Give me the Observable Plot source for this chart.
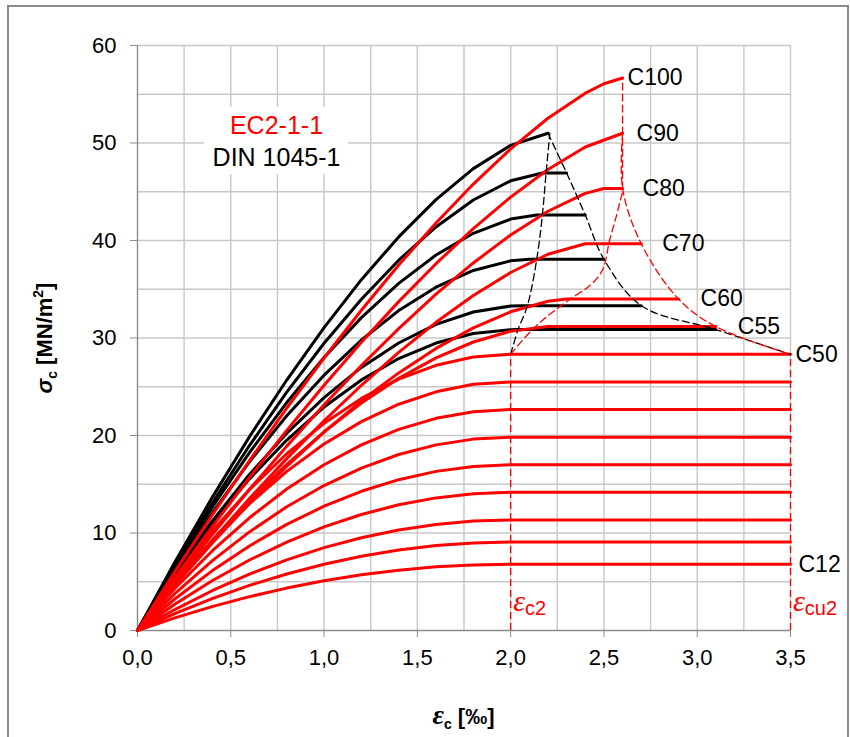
<!DOCTYPE html>
<html>
<head>
<meta charset="utf-8">
<script src="https://cdn.jsdelivr.net/npm/d3@7"></script>
<script src="https://cdn.jsdelivr.net/npm/@observablehq/plot@0.6"></script>
<style>
  html, body { margin: 0; padding: 0; background: #fff; }
  #chart svg { display: block; }
</style>
</head>
<body>
<div id="chart"></div>
<script>
// Strain steps along the parabolic branch, in ‰
const epsRise = [0, 0.2, 0.4, 0.6, 0.8, 1.0, 1.2, 1.4, 1.6, 1.8, 2.0];

// EC2-1-1, normal-strength classes: stress (MN/m²) at epsRise, then constant up to εcu2
const ec2NormalClasses = ["C12", "C16", "C20", "C25", "C30", "C35", "C40", "C45", "C50"];
const ec2NormalRise = [
  [0, 1.29, 2.45, 3.47, 4.35, 5.10, 5.71, 6.19, 6.53, 6.73, 6.80],
  [0, 1.72, 3.27, 4.63, 5.80, 6.80, 7.62, 8.25, 8.71, 8.98, 9.07],
  [0, 2.15, 4.08, 5.78, 7.25, 8.50, 9.52, 10.31, 10.88, 11.22, 11.33],
  [0, 2.69, 5.10, 7.23, 9.07, 10.63, 11.90, 12.89, 13.60, 14.03, 14.17],
  [0, 3.23, 6.12, 8.67, 10.88, 12.75, 14.28, 15.47, 16.32, 16.83, 17.00],
  [0, 3.77, 7.14, 10.11, 12.69, 14.87, 16.66, 18.05, 19.04, 19.63, 19.83],
  [0, 4.31, 8.16, 11.56, 14.51, 17.00, 19.04, 20.63, 21.76, 22.44, 22.67],
  [0, 4.85, 9.18, 13.01, 16.32, 19.13, 21.42, 23.21, 24.48, 25.25, 25.50],
  [0, 5.38, 10.20, 14.45, 18.13, 21.25, 23.80, 25.78, 27.20, 28.05, 28.33]
];
const ec2NormalTailEps = [3.5];

// EC2-1-1, high-strength classes
const ec2HighClasses = ["C55", "C60", "C70", "C80", "C90", "C100"];
const ec2HighRise = [
  [0, 4.79, 9.23, 13.32, 17.04, 20.38, 23.33, 25.86, 27.96, 29.59, 30.70],
  [0, 4.61, 8.96, 13.04, 16.84, 20.35, 23.56, 26.42, 28.93, 31.04, 32.69],
  [0, 4.70, 9.22, 13.53, 17.63, 21.51, 25.15, 28.52, 31.61, 34.35, 36.72],
  [0, 5.00, 9.82, 14.46, 18.91, 23.16, 27.18, 30.96, 34.49, 37.70, 40.57],
  [0, 5.41, 10.63, 15.68, 20.52, 25.15, 29.56, 33.73, 37.62, 41.21, 44.45],
  [0, 6.01, 11.82, 17.42, 22.80, 27.95, 32.85, 37.48, 41.80, 45.79, 49.39]
];
const ec2HighTailEps = [
  [2.2, 3.1],
  [2.2, 2.3, 2.9],
  [2.2, 2.4, 2.7],
  [2.2, 2.4, 2.5, 2.6],
  [2.2, 2.4, 2.6],
  [2.2, 2.4, 2.5, 2.6]
];
const ec2HighTailSig = [
  [31.17, 31.17],
  [33.77, 34.00, 34.00],
  [38.59, 39.67, 39.67],
  [43.00, 44.83, 45.33, 45.33],
  [47.29, 49.59, 51.00],
  [52.54, 55.11, 56.08, 56.67]
];

// DIN 1045-1, high-strength classes
const dinClasses = ["C55", "C60", "C70", "C80", "C90", "C100"];
const dinRise = [
  [0, 5.78, 10.96, 15.55, 19.53, 22.92, 25.70, 27.89, 29.48, 30.46, 30.85],
  [0, 5.88, 11.21, 16.00, 20.23, 23.89, 26.98, 29.49, 31.39, 32.67, 33.28],
  [0, 6.28, 12.05, 17.30, 22.02, 26.19, 29.79, 32.81, 35.21, 36.93, 37.92],
  [0, 6.55, 12.63, 18.25, 23.38, 28.00, 32.09, 35.60, 38.51, 40.74, 42.20],
  [0, 6.72, 13.05, 18.97, 24.44, 29.46, 33.98, 37.98, 41.39, 44.15, 46.12],
  [0, 7.00, 13.63, 19.87, 25.69, 31.07, 35.98, 40.37, 44.19, 47.37, 49.76]
];
const dinTailEps = [[2.03, 3.1], [2.06, 2.7], [2.10, 2.5], [2.14, 2.4], [2.17, 2.3], [2.20]];
const dinTailSig = [[30.86, 30.86], [33.32, 33.32], [38.08, 38.08], [42.61, 42.61], [46.92, 46.92], [51.00]];

// Limit lines through the ends of the parabolas and the ultimate strains
const ec2LimitC2Eps = [2.0, 2.17, 2.32, 2.42, 2.49, 2.53, 2.58, 2.6, 2.6];
const ec2LimitC2Sig = [28.33, 31.8, 34.0, 35.3, 36.9, 40.0, 43.5, 45.33, 56.67];
const ec2LimitCu2Eps = [2.6, 2.6, 2.7, 2.9, 3.1, 3.5];
const ec2LimitCu2Sig = [51.0, 45.33, 39.67, 34.0, 31.17, 28.33];
const dinLimitC2Eps = [2.0, 2.04, 2.09, 2.14, 2.17, 2.19, 2.21];
const dinLimitC2Sig = [28.33, 30.86, 33.32, 38.08, 42.61, 46.92, 51.0];
const dinLimitCuEps = [2.2, 2.3, 2.4, 2.5, 2.7, 3.1, 3.5];
const dinLimitCuSig = [51.0, 46.92, 42.61, 38.08, 33.32, 30.86, 28.33];
const strainMarks = [2.0, 3.5];   // εc2 and εcu2 of normal-strength concrete
const strainMarkTop = 28.33;      // C50 plateau

// Axis ticks and grid
const xTicks = [0, 0.5, 1.0, 1.5, 2.0, 2.5, 3.0, 3.5];
const yTicks = [0, 10, 20, 30, 40, 50, 60];
const xGrid = [0.25, 0.5, 0.75, 1.0, 1.25, 1.5, 1.75, 2.0, 2.25, 2.5, 2.75, 3.0, 3.25, 3.5];
const yGrid = [5, 10, 15, 20, 25, 30, 35, 40, 45, 50, 55, 60];

// Labelled classes
const labelledClasses = ["C100", "C90", "C80", "C70", "C60", "C55", "C50", "C12"];

function curveRows(std, classes, rise, tailEps, tailSig) {
  const rows = [];
  classes.forEach((cls, i) => {
    epsRise.forEach((e, j) => rows.push({std, cls, eps: e, sig: rise[i][j]}));
    const te = tailEps[i] || tailEps[0];
    const ts = tailSig ? tailSig[i] : te.map(() => rise[i][rise[i].length - 1]);
    te.forEach((e, j) => rows.push({std, cls, eps: e, sig: ts[j]}));
  });
  return rows;
}
const zip = (a, b) => a.map((e, i) => ({eps: e, sig: b[i]}));

const ec2Rows = [
  ...curveRows("EC2", ec2NormalClasses, ec2NormalRise, [ec2NormalTailEps], null),
  ...curveRows("EC2", ec2HighClasses, ec2HighRise, ec2HighTailEps, ec2HighTailSig)
];
const dinRows = curveRows("DIN", dinClasses, dinRise, dinTailEps, dinTailSig);

// end point of each EC2 curve, for the class labels
const ends = labelledClasses.map(cls => {
  const r = ec2Rows.filter(d => d.cls === cls);
  return {cls, ...r[r.length - 1]};
});
const labelDx = {C100: 5, C90: 14, C80: 20, C70: 21, C60: 22, C55: 22, C50: 5, C12: 8};

const font = "'Liberation Sans', Arial, sans-serif";
const dash = "7,4";

const chart = Plot.plot({
  width: 850,
  height: 737,
  marginLeft: 137,
  marginRight: 60,
  marginTop: 45,
  marginBottom: 107,
  style: {fontFamily: font, background: "#fff"},
  x: {domain: [0, 3.5]},
  y: {domain: [0, 60]},
  marks: [
    Plot.ruleX(xGrid, {stroke: "#c8c8c8", strokeWidth: 1.4}),
    Plot.ruleY(yGrid, {stroke: "#c8c8c8", strokeWidth: 1.4}),
    Plot.ruleX([0], {stroke: "#8c8c8c", strokeWidth: 1.4}),
    Plot.ruleY([0], {stroke: "#8c8c8c", strokeWidth: 1.4}),
    Plot.axisX(xTicks, {
      anchor: "bottom", label: null, tickSize: 7, tickPadding: 12,
      stroke: "#8c8c8c", fill: "black", fontSize: 22,
      tickFormat: d => d.toFixed(1).replace(".", ",")
    }),
    Plot.axisY(yTicks, {
      anchor: "left", label: null, tickSize: 7, tickPadding: 14,
      stroke: "#8c8c8c", fill: "black", fontSize: 22
    }),
    // εc2 / εcu2 verticals of normal-strength concrete
    Plot.ruleX(strainMarks, {y1: 0, y2: strainMarkTop, stroke: "red", strokeWidth: 1.3, strokeDasharray: dash}),
    // stress–strain curves
    Plot.line(dinRows, {x: "eps", y: "sig", z: "cls", stroke: "black", strokeWidth: 3}),
    Plot.line(ec2Rows, {x: "eps", y: "sig", z: "cls", stroke: "red", strokeWidth: 3}),
    // limit lines
    Plot.line(zip(dinLimitC2Eps, dinLimitC2Sig), {x: "eps", y: "sig", curve: "catmull-rom", stroke: "black", strokeWidth: 1.3, strokeDasharray: dash}),
    Plot.line(zip(dinLimitCuEps, dinLimitCuSig), {x: "eps", y: "sig", curve: "catmull-rom", stroke: "black", strokeWidth: 1.3, strokeDasharray: dash}),
    Plot.line(zip(ec2LimitC2Eps, ec2LimitC2Sig), {x: "eps", y: "sig", curve: "monotone-y", stroke: "red", strokeWidth: 1.3, strokeDasharray: dash}),
    Plot.line(zip(ec2LimitCu2Eps, ec2LimitCu2Sig), {x: "eps", y: "sig", curve: "catmull-rom", stroke: "red", strokeWidth: 1.3, strokeDasharray: dash}),
    // class labels
    ...ends.map(d => Plot.text([d], {
      x: "eps", y: "sig", text: "cls", dx: labelDx[d.cls], textAnchor: "start",
      lineAnchor: "middle", fontSize: 23, fill: "black"
    })),
    // legend
    Plot.text(["EC2-1-1", "DIN 1045-1"], {
      x: () => 0.745, y: (d, i) => i === 0 ? 51.7 : 48.5, text: d => d,
      fill: (d, i) => i === 0 ? "red" : "black", fontSize: 25, lineAnchor: "middle",
      className: "legend-txt"
    })
  ]
});

document.getElementById("chart").appendChild(chart);

const svg = d3.select(chart);
const xs = chart.scale("x"), ys = chart.scale("y");

// white background behind the legend text
const lg = svg.select("g.legend-txt");
if (!lg.empty()) {
  const bb = lg.node().getBBox();
  svg.insert("rect", "g.legend-txt")
    .attr("x", bb.x - 8).attr("y", bb.y - 4)
    .attr("width", bb.width + 16).attr("height", bb.height + 8)
    .attr("fill", "white");
}

// outer frame
svg.append("rect")
  .attr("x", 8).attr("y", 6).attr("width", 840).attr("height", 780)
  .attr("fill", "none").attr("stroke", "#8c8c8c").attr("stroke-width", 2);

// y-axis title
const yt = svg.append("text")
  .attr("transform", "translate(52,338) rotate(-90)")
  .attr("text-anchor", "middle")
  .attr("font-family", font).attr("font-weight", "bold").attr("font-size", 22);
yt.append("tspan").attr("font-style", "italic").text("σ");
yt.append("tspan").attr("font-size", 14).attr("dy", 5).text("c");
yt.append("tspan").attr("dy", -5).text(" [MN/m");
yt.append("tspan").attr("font-size", 14).attr("dy", -9).text("2");
yt.append("tspan").attr("dy", 9).text("]");

// x-axis title
const xt = svg.append("text")
  .attr("x", (xs.apply(0) + xs.apply(3.5)) / 2).attr("y", 724)
  .attr("text-anchor", "middle")
  .attr("font-family", font).attr("font-weight", "bold").attr("font-size", 22);
xt.append("tspan").attr("font-style", "italic").attr("font-family", "'Liberation Serif', serif").attr("font-size", 28).text("ε");
xt.append("tspan").attr("font-size", 14).attr("dy", 5).text("c");
xt.append("tspan").attr("dy", -5).text(" [‰]");

// εc2 / εcu2 labels
[["c2", 2.0], ["cu2", 3.5]].forEach(([sub, e]) => {
  const t = svg.append("text")
    .attr("x", xs.apply(e) + 3).attr("y", ys.apply(1.9))
    .attr("text-anchor", "start")
    .attr("fill", "red").attr("font-family", font).attr("font-size", 20);
  t.append("tspan").attr("font-style", "italic").attr("font-family", "'Liberation Serif', serif").attr("font-size", 30).text("ε");
  t.append("tspan").attr("dy", 4).text(sub);
});
</script>
</body>
</html>
